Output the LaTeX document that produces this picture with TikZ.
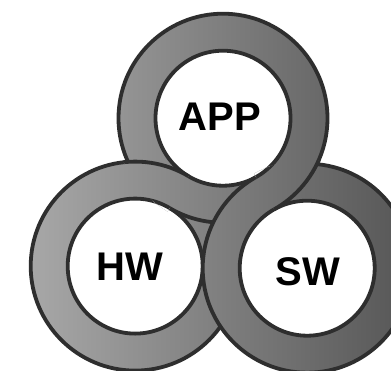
\documentclass[tikz,border=0pt]{standalone}
\usepackage{fontspec}
\setmainfont{Liberation Sans}
\usepackage{xcolor}
\usepackage{tikz}
\usetikzlibrary{calc}
\definecolor{rimc}{HTML}{2E2E2E}
\definecolor{bandlight}{HTML}{AEAEAE}
\definecolor{banddark}{HTML}{5A5A5A}
\tikzset{
  rim/.style={draw=rimc, line width=3.8pt},
  hole/.style={fill=white},
  band/.style={left color=bandlight, right color=banddark},
  lbl/.style={text=black, font=\fontsize{40}{40}\selectfont\bfseries}
}
\newcommand{\rout}{104.5}
\newcommand{\rin}{67.5}
% one ring: shaded band, white hole, two rims
\newcommand{\drawring}[1]{%
  \begin{scope}
    \clip (#1) circle[radius=\rout];
    \shade[band] (0,0) rectangle (391,370);
  \end{scope}
  \fill[hole] (#1) circle[radius=\rin];
  \draw[rim] (#1) circle[radius=\rout] (#1) circle[radius=\rin];
}

\begin{document}
\begin{tikzpicture}[x=1pt, y=-1pt]
  \clip (0,0) rectangle (391,370);
  \fill[white] (0,0) rectangle (391,370);

  \coordinate (app) at (223,118.2);
  \coordinate (hw) at (135.2,266.1);
  \coordinate (sw) at (307.2,268.2);

  \drawring{hw}
  \drawring{app}
  \drawring{sw}

  % HW over APP at the left crossing
  \begin{scope}
    \clip ($(app)!-2!(hw)$) -- ($(hw)!-2!(app)$) -- (-400,-400) -- cycle;
    \clip (app) circle[radius=\rout+4];
    \drawring{hw}
  \end{scope}
  % APP over SW at the right crossing
  \begin{scope}
    \clip ($(app)!-2!(sw)$) -- ($(sw)!-2!(app)$) -- (800,-400) -- cycle;
    \clip (sw) circle[radius=\rout+4];
    \drawring{app}
  \end{scope}

  \node[lbl] (applbl) at (220,117) {APP};
  \node[lbl] (hwlbl) at (130,267) {HW};
  \node[lbl] (swlbl) at (308,272) {SW};
\end{tikzpicture}
\end{document}
